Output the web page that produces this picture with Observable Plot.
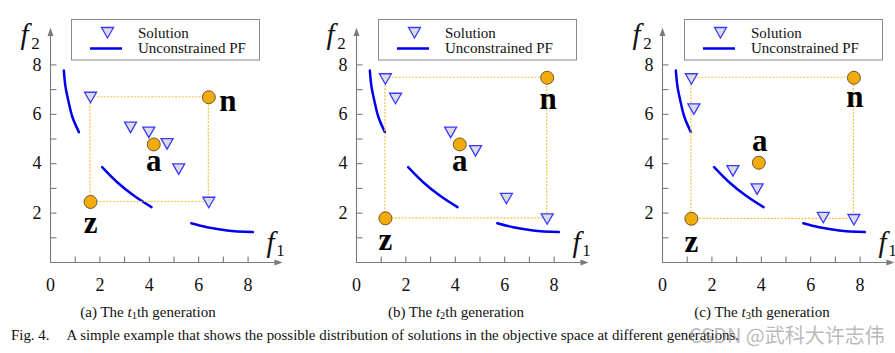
<!DOCTYPE html>
<html><head><meta charset="utf-8">
<script src="https://cdn.jsdelivr.net/npm/d3@7"></script>
<script src="https://cdn.jsdelivr.net/npm/@observablehq/plot@0.6"></script>
<style>
body{margin:0;background:#fff;width:895px;height:353px;overflow:hidden;position:relative;font-family:"Liberation Serif","Times New Roman",serif;color:#111;}
.panel{position:absolute;top:0;}
.sub{position:absolute;top:304px;font-size:15px;line-height:17px;white-space:nowrap;transform:translateX(-50%);}
.sub sub{font-size:10.5px;vertical-align:-2px;line-height:0;}
.fig{position:absolute;left:11px;top:327px;font-size:14.9px;line-height:17px;white-space:nowrap;}
.fig .gap{display:inline-block;width:17px;}
.wm{position:absolute;left:689px;top:326px;font-family:"Noto Sans CJK SC",sans-serif;font-size:20px;line-height:18px;color:rgba(140,140,140,0.62);white-space:nowrap;}
</style></head>
<body>
<div id="root"></div>
<script>
// ---------- data ----------
const tickValues = [1, 2, 3, 4, 5, 6, 7, 8];
const xTickLabels = [0, 2, 4, 6, 8];
const yTickLabels = [2, 4, 6, 8];
const captions = ["(a) The <i>t</i><sub>1</sub>th generation", "(b) The <i>t</i><sub>2</sub>th generation", "(c) The <i>t</i><sub>3</sub>th generation"];
const legendLabels = ["Solution", "Unconstrained PF"];

// unconstrained Pareto front, three disconnected pieces (same in every panel)
const pfSeg1 = [[0.54, 7.77], [0.61, 7.10], [0.72, 6.56], [0.89, 5.88], [1.15, 5.28]];
const pfSeg2 = [[2.09, 3.86], [2.70, 3.25], [3.37, 2.71], [4.09, 2.24]];
const pfSeg3 = [[5.70, 1.59], [6.34, 1.43], [7.15, 1.30], [8.19, 1.23]];

// solutions (triangles) per generation
const solutionsT1 = [[1.62, 6.69], [3.24, 5.48], [3.98, 5.28], [4.72, 4.81], [5.19, 3.79], [6.41, 2.44]];
const solutionsT2 = [[1.17, 7.44], [1.58, 6.65], [3.81, 5.28], [4.82, 4.53], [6.07, 2.60], [7.72, 1.77]];
const solutionsT3 = [[1.17, 7.44], [1.27, 6.22], [2.85, 3.72], [3.83, 2.98], [6.51, 1.83], [7.75, 1.74]];

// ideal point z, point a, nadir point n per generation
const pointNames = ["z", "a", "n"];
const pointsT1 = [[1.62, 2.45], [4.18, 4.78], [6.41, 6.69]];
const pointsT2 = [[1.17, 1.79], [4.18, 4.78], [7.72, 7.48]];
const pointsT3 = [[1.17, 1.77], [3.90, 4.04], [7.75, 7.48]];

// ---------- layout / style ----------
const XMAX = 9.35, YMAX = 9.45, UNIT = 24.7, OX = 50, OY = 262;
const panelLeft = [0, 306, 612], panelWidth = [306, 306, 283];
const legendLeft = [71, 72, 72], legendWidth = [189, 199, 199];
const subCenter = [148, 456, 762];
const labelOffsets = [
  {z: [0, 21], a: [0, 17], n: [19, 4]},
  {z: [0, 22], a: [0, 17], n: [1, 21]},
  {z: [0, 23], a: [1, -22], n: [1, 19]}
];
const FONT = "Liberation Serif";
const AXIS = "#7a7a7a", BLUE = "#0000ee", TRI_STROKE = "#3a3aff", TRI_FILL = "#dcdce2";
const GOLD = "#f1ab0d", GOLD_STROKE = "#6e5a2c", BOX = "#f7c244";

const triDown = {draw(c) { c.moveTo(-6, -5); c.lineTo(6, -5); c.lineTo(0, 5.5); c.closePath(); }};
const arrowHead = {draw(c) { c.moveTo(0, -1); c.lineTo(3, 7); c.lineTo(-3, 7); c.closePath(); }};
const tickUp = {draw(c) { c.moveTo(0, 0); c.lineTo(0, -6); }};
const tickRight = {draw(c) { c.moveTo(0, 0); c.lineTo(6, 0); }};

const pf = [pfSeg1, pfSeg2, pfSeg3].flatMap((s, i) => s.map(([x, y]) => ({seg: i, x, y})));
const solutions = [solutionsT1, solutionsT2, solutionsT3];
const points = [pointsT1, pointsT2, pointsT3];

const root = document.getElementById("root");

for (let p = 0; p < 3; p++) {
  const sol = solutions[p].map(([x, y]) => ({x, y}));
  const pts = points[p].map(([x, y], i) => ({name: pointNames[i], x, y}));
  const z = pts[0], n = pts[2];
  const box = [{x1: z.x, x2: n.x, y1: z.y, y2: n.y}];
  const labelMarks = pts.map(d => Plot.text([d], {
    x: "x", y: "y", text: "name", dx: labelOffsets[p][d.name][0], dy: labelOffsets[p][d.name][1],
    fontSize: 31, fontWeight: "bold", fontFamily: FONT, fill: "#000"
  }));

  const chart = Plot.plot({
    width: panelWidth[p], height: 298, margin: 0,
    x: {domain: [0, XMAX], range: [OX, OX + XMAX * UNIT], axis: null},
    y: {domain: [0, YMAX], range: [OY, OY - YMAX * UNIT], axis: null},
    style: {fontFamily: "'Liberation Serif', serif", background: "transparent", overflow: "visible", color: "#111"},
    marks: [
      Plot.ruleY([0], {x1: 0, x2: XMAX, stroke: AXIS, strokeWidth: 1.1}),
      Plot.ruleX([0], {y1: 0, y2: YMAX, stroke: AXIS, strokeWidth: 1.1}),
      Plot.dot([{x: XMAX, y: 0}], {x: "x", y: "y", symbol: arrowHead, rotate: 90, fill: AXIS, stroke: "none"}),
      Plot.dot([{x: 0, y: YMAX}], {x: "x", y: "y", symbol: arrowHead, fill: AXIS, stroke: "none"}),
      Plot.dot(tickValues, {x: d => d, y: 0, symbol: tickUp, fill: "none", stroke: AXIS, strokeWidth: 1.1}),
      Plot.dot(tickValues, {x: 0, y: d => d, symbol: tickRight, fill: "none", stroke: AXIS, strokeWidth: 1.1}),
      Plot.text(xTickLabels, {x: d => d, y: 0, dy: 23, text: d => String(d), fontSize: 18, fontFamily: FONT, fill: "#111"}),
      Plot.text(yTickLabels, {x: 0, y: d => d, dx: -9, textAnchor: "end", text: d => String(d), fontSize: 18, fontFamily: FONT, fill: "#111"}),
      Plot.text(["f"], {x: 0, y: YMAX, dx: -26, dy: 6, text: d => d, fontSize: 29, fontStyle: "italic", fontFamily: FONT, fill: "#111"}),
      Plot.text(["2"], {x: 0, y: YMAX, dx: -15, dy: 14, text: d => d, fontSize: 17, fontFamily: FONT, fill: "#111"}),
      Plot.text(["f"], {x: XMAX, y: 0, dx: -11, dy: -20, text: d => d, fontSize: 29, fontStyle: "italic", fontFamily: FONT, fill: "#111"}),
      Plot.text(["1"], {x: XMAX, y: 0, dx: -1, dy: -12, text: d => d, fontSize: 17, fontFamily: FONT, fill: "#111"}),
      Plot.line(pf, {x: "x", y: "y", z: "seg", curve: "catmull-rom", stroke: BLUE, strokeWidth: 2.5}),
      Plot.rect(box, {x1: "x1", x2: "x2", y1: "y1", y2: "y2", fill: "none", stroke: BOX, strokeWidth: 1.2, strokeDasharray: "2,1.4"}),
      Plot.dot(sol, {x: "x", y: "y", symbol: triDown, fill: TRI_FILL, stroke: TRI_STROKE, strokeWidth: 1.3}),
      Plot.dot(pts, {x: "x", y: "y", r: 6.5, fill: GOLD, stroke: GOLD_STROKE, strokeWidth: 1}),
      ...labelMarks
    ]
  });

  const div = document.createElement("div");
  div.className = "panel";
  div.style.left = panelLeft[p] + "px";
  div.style.width = panelWidth[p] + "px";
  div.appendChild(chart);

  // legend box
  const lw = legendWidth[p];
  const lg = d3.create("svg").attr("width", lw).attr("height", 42)
    .style("left", legendLeft[p] + "px").style("position", "absolute").style("top", "19px");
  lg.append("rect").attr("x", 0.5).attr("y", 0.5).attr("width", lw - 1).attr("height", 40.5)
    .attr("fill", "#fff").attr("stroke", "#8a8a8a").attr("stroke-width", 1);
  lg.append("path").attr("transform", "translate(36.5,13.5)").attr("d", "M-6,-5L6,-5L0,5.5Z")
    .attr("fill", TRI_FILL).attr("stroke", TRI_STROKE).attr("stroke-width", 1.3);
  lg.append("line").attr("x1", 19).attr("x2", 51).attr("y1", 29.5).attr("y2", 29.5)
    .attr("stroke", BLUE).attr("stroke-width", 2.5);
  lg.append("text").attr("x", 67).attr("y", 18.7).text(legendLabels[0])
    .attr("font-size", 15).attr("font-family", FONT).attr("fill", "#111");
  lg.append("text").attr("x", 67).attr("y", 33.5).text(legendLabels[1])
    .attr("font-size", 15).attr("font-family", FONT).attr("fill", "#111");
  div.appendChild(lg.node());
  root.appendChild(div);

  const sub = document.createElement("div");
  sub.className = "sub";
  sub.style.left = subCenter[p] + "px";
  sub.innerHTML = captions[p];
  root.appendChild(sub);
}

const fig = document.createElement("div");
fig.className = "fig";
fig.innerHTML = "Fig. 4.<span class=\"gap\"></span>A simple example that shows the possible distribution of solutions in the objective space at different generations.";
root.appendChild(fig);
const wm = document.createElement("div");
wm.className = "wm";
wm.textContent = "CSDN @武科大许志伟";
root.appendChild(wm);
</script>
</body></html>
